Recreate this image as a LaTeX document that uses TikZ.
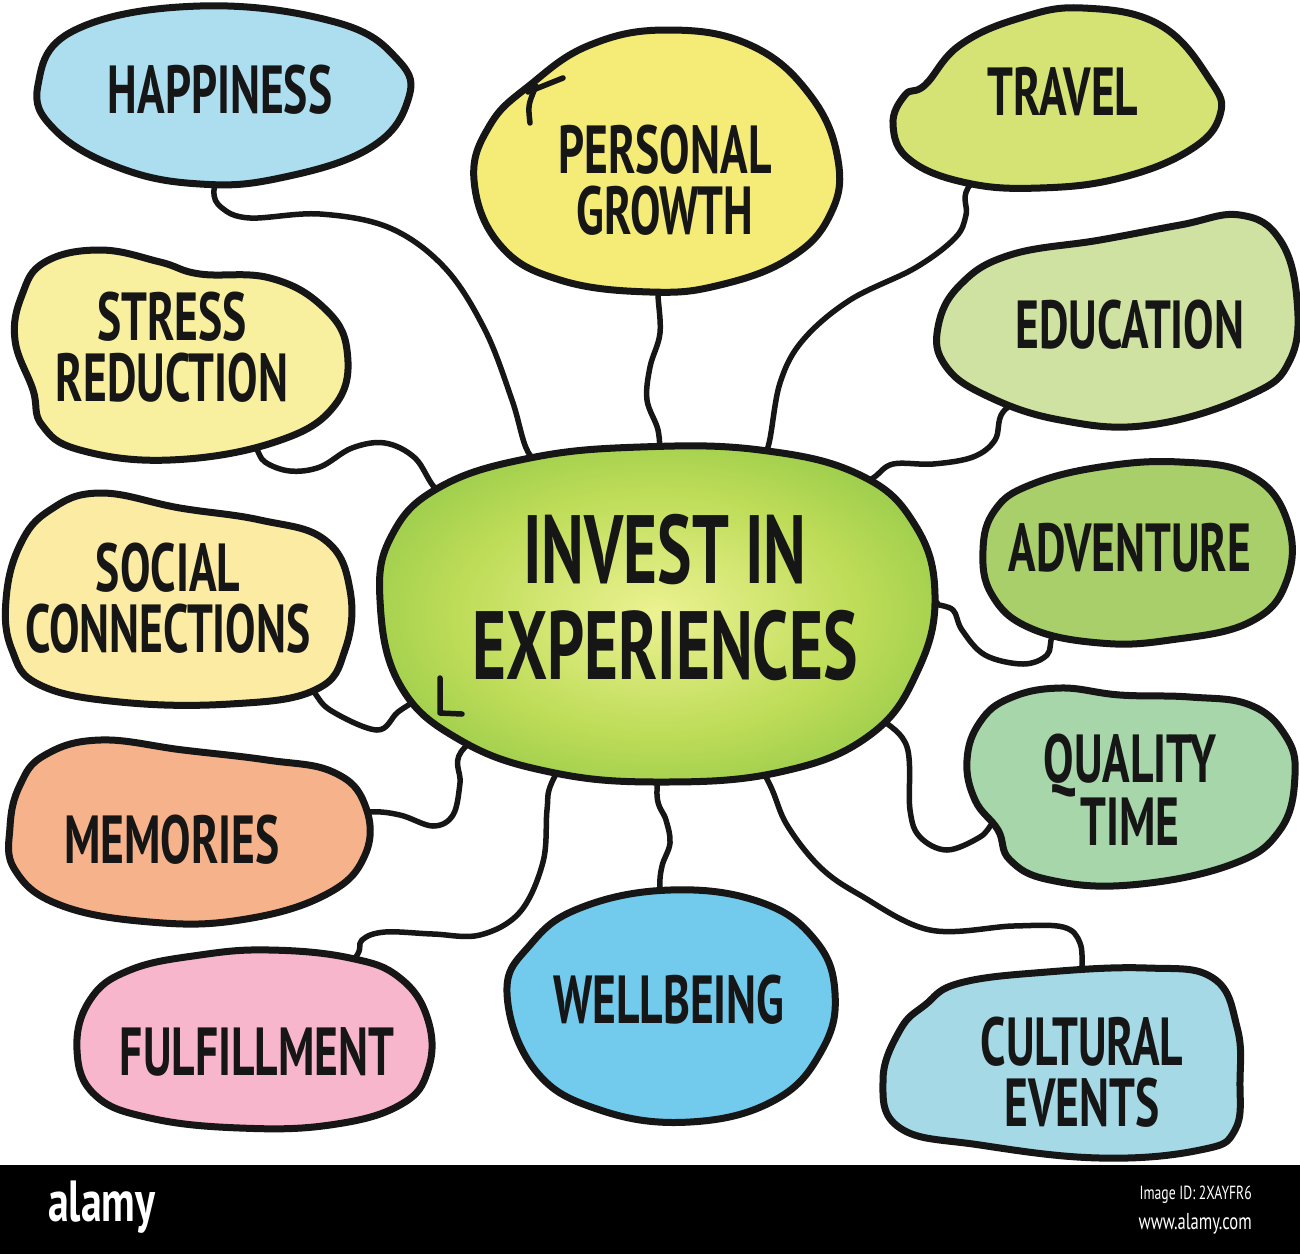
\documentclass[tikz,border=0pt]{standalone}
\usepackage{fontspec}
\newfontfamily\handfont{PT Sans}[FakeStretch=0.67]
\newfontfamily\bannerfont{PT Sans}[FakeStretch=0.72]
\usetikzlibrary{shapes.geometric}

\definecolor{ink}{HTML}{161616}
\definecolor{hapC}{HTML}{ADDEF0}
\definecolor{growC}{HTML}{F4EC76}
\definecolor{travC}{HTML}{D5E274}
\definecolor{strC}{HTML}{F8F09E}
\definecolor{eduC}{HTML}{CFE2A2}
\definecolor{socC}{HTML}{FCEBA3}
\definecolor{advC}{HTML}{A9CF6A}
\definecolor{memC}{HTML}{F6B38B}
\definecolor{qualC}{HTML}{A6D6A9}
\definecolor{fulC}{HTML}{F8B6CC}
\definecolor{wellC}{HTML}{72CAEC}
\definecolor{cultC}{HTML}{A5D9E6}
\definecolor{coreIn}{HTML}{ECF292}
\definecolor{coreMid}{HTML}{BEDC58}
\definecolor{coreOut}{HTML}{7ABF40}
\pgfdeclareradialshading{coreglow}{\pgfpoint{0bp}{0bp}}{color(0bp)=(coreIn); color(18bp)=(coreMid); color(38bp)=(coreOut); color(50bp)=(coreOut)}

\pgfdeclarelayer{paper}
\pgfdeclarelayer{links}
\pgfdeclarelayer{blobs}
\pgfsetlayers{paper,links,blobs,main}

\begin{document}
\begin{tikzpicture}[
  x=1pt, y=-1pt,
  topic/.style={ellipse, inner sep=0pt, align=center, text=ink,
    font=\handfont\bfseries\fontsize{68}{61}\selectfont},
  blob/.style={draw=ink, line width=7pt, line join=round},
  link/.style={draw=ink, line width=5.5pt, line cap=round, line join=round}
]
\useasboundingbox (0,0) rectangle (1300,1254);
\begin{pgfonlayer}{paper}
\fill[white] (0,0) rectangle (1300,1254);
\end{pgfonlayer}

\node[topic, minimum width=480, minimum height=280,
  font=\handfont\bfseries\fontsize{97}{96}\selectfont] (core) at (665,598) {INVEST IN\\EXPERIENCES};
\node[topic, minimum width=300, minimum height=130] (hap) at (220,90) {HAPPINESS};
\node[topic, minimum width=280, minimum height=200] (grow) at (665,180) {PERSONAL\\GROWTH};
\node[topic, minimum width=250, minimum height=130] (trav) at (1063,92) {TRAVEL};
\node[topic, minimum width=280, minimum height=160] (str) at (172,347) {STRESS\\REDUCTION};
\node[topic, minimum width=300, minimum height=160] (edu) at (1130,325) {EDUCATION};
\node[topic, minimum width=280, minimum height=170] (soc) at (168,598) {SOCIAL\\CONNECTIONS};
\node[topic, minimum width=260, minimum height=140] (adv) at (1130,548) {ADVENTURE};
\node[topic, minimum width=300, minimum height=140] (mem) at (172,840) {MEMORIES};
\node[topic, minimum width=270, minimum height=160] (qual) at (1130,790) {QUALITY\\TIME};
\node[topic, minimum width=300, minimum height=110] (ful) at (257,1052) {FULFILLMENT};
\node[topic, minimum width=260, minimum height=170] (well) at (669,1000) {WELLBEING};
\node[topic, minimum width=280, minimum height=140] (cult) at (1082,1072) {CULTURAL\\EVENTS};

\begin{pgfonlayer}{blobs}
\path[blob, shading=coreglow] plot[smooth cycle, tension=0.7] coordinates {(380,600) (392,535) (440,487) (530,458) (640,447) (760,450) (860,475) (915,525) (935,595) (918,670) (870,735) (780,772) (660,782) (550,772) (460,740) (400,685)};
\draw[link] (440,678) -- (440,713) -- (462,714);
\path[blob, fill=hapC] plot[smooth cycle, tension=0.7] coordinates {(38,85) (75,30) (200,6) (335,22) (398,60) (408,100) (370,148) (280,178) (200,184) (120,168) (55,130)};
\path[blob, fill=growC] plot[smooth cycle, tension=0.7] coordinates {(474,180) (490,125) (530,85) (590,45) (667,30) (750,45) (810,95) (838,160) (830,215) (790,258) (720,285) (650,292) (560,280) (500,245)};
\draw[link] (530,123) .. controls (528,105) .. (536,86);
\draw[link] (528,92) -- (563,78);
\path[blob, fill=travC] plot[smooth cycle, tension=0.7] coordinates {(893,125) (905,95) (925,85) (960,45) (1020,18) (1083,8) (1160,25) (1210,80) (1220,115) (1190,150) (1120,178) (1040,188) (967,183) (910,160)};
\path[blob, fill=strC] plot[smooth cycle, tension=0.7] coordinates {(15,340) (22,295) (45,262) (100,250) (160,262) (200,274) (270,278) (323,307) (347,350) (335,405) (275,442) (170,460) (80,450) (42,425) (33,390)};
\path[blob, fill=eduC] plot[smooth cycle, tension=0.7] coordinates {(938,327) (960,285) (1010,255) (1100,240) (1180,225) (1240,215) (1280,240) (1297,300) (1290,360) (1250,395) (1150,425) (1060,420) (985,395) (945,365)};
\path[blob, fill=socC] plot[smooth cycle, tension=0.7] coordinates {(6,600) (20,545) (50,510) (100,493) (180,508) (260,520) (325,540) (350,590) (345,650) (315,690) (230,704) (120,702) (40,685) (12,650)};
\path[blob, fill=advC] plot[smooth cycle, tension=0.7] coordinates {(983,550) (995,510) (1030,485) (1100,467) (1180,462) (1250,475) (1287,520) (1287,580) (1250,622) (1170,640) (1100,643) (1030,628) (992,595)};
\path[blob, fill=memC] plot[smooth cycle, tension=0.7] coordinates {(10,827) (20,785) (45,755) (100,740) (183,750) (267,760) (333,772) (365,805) (365,855) (325,895) (240,920) (150,922) (60,905) (15,870)};
\path[blob, fill=qualC] plot[smooth cycle, tension=0.7] coordinates {(967,760) (980,722) (1010,698) (1060,688) (1120,695) (1190,697) (1250,705) (1285,735) (1295,775) (1280,830) (1230,865) (1130,885) (1050,880) (1010,860) (998,830) (975,800)};
\path[blob, fill=fulC] plot[smooth cycle, tension=0.7] coordinates {(77,1050) (90,1000) (130,970) (200,955) (270,950) (350,958) (400,978) (428,1020) (428,1070) (400,1105) (330,1125) (240,1128) (150,1118) (95,1095)};
\path[blob, fill=wellC] plot[smooth cycle, tension=0.7] coordinates {(507,993) (530,945) (580,908) (670,890) (760,902) (815,940) (835,993) (822,1050) (775,1100) (690,1122) (600,1110) (535,1070)};
\path[blob, fill=cultC] plot[smooth cycle, tension=0.7] coordinates {(883,1080) (900,1030) (925,1005) (960,983) (1047,972) (1147,968) (1213,978) (1237,1027) (1240,1080) (1235,1130) (1200,1150) (1100,1158) (980,1145) (900,1128)};
\end{pgfonlayer}

\begin{pgfonlayer}{links}
\draw[link] plot[smooth, tension=0.6] coordinates {(hap.-85) (214,190) (222,208) (250,218) (320,214) (390,228) (445,268) (485,330) (512,400) (528,452) (core.132)};
\draw[link] plot[smooth, tension=0.6] coordinates {(grow.-92) (658,293) (660,333) (650,367) (647,400) (658,430) (core.92)};
\draw[link] plot[smooth, tension=0.6] coordinates {(trav.-135) (968,188) (966,215) (955,238) (915,268) (850,300) (803,340) (780,383) (768,447) (core.56)};
\draw[link] plot[smooth, tension=0.6] coordinates {(str.-51) (255,447) (265,462) (290,471) (320,467) (352,448) (385,443) (415,458) (437,490) (core.154)};
\draw[link] plot[smooth, tension=0.6] coordinates {(edu.-146) (1003,412) (995,440) (973,457) (933,464) (893,464) (873,478) (core.30)};
\draw[link] plot[smooth, tension=0.6] coordinates {(soc.-32) (310,688) (330,710) (377,730) (398,712) (420,698) (core.201)};
\draw[link] plot[smooth, tension=0.6] coordinates {(adv.-131) (1053,635) (1047,655) (1023,664) (985,655) (962,630) (953,610) (935,604) (core.-1)};
\draw[link] plot[smooth, tension=0.6] coordinates {(mem.8) (368,812) (400,815) (433,826) (453,815) (460,783) (461,752) (core.216)};
\draw[link] plot[smooth, tension=0.6] coordinates {(qual.193) (993,823) (980,837) (947,850) (920,837) (910,810) (907,747) (880,718) (core.-28)};
\draw[link] plot[smooth, tension=0.6] coordinates {(ful.44) (355,958) (362,940) (385,932) (433,934) (480,935) (520,912) (543,862) (547,810) (552,782) (core.-122)};
\draw[link] plot[smooth, tension=0.6] coordinates {(well.92) (660,888) (662,866) (670,843) (666,820) (657,795) (core.-91)};
\draw[link] plot[smooth, tension=0.6] coordinates {(cult.90) (1082,972) (1080,943) (1063,927) (1013,926) (930,930) (860,895) (820,867) (787,825) (770,785) (core.-60)};
\end{pgfonlayer}

\fill[black] (0,1165) rectangle (1300,1254);
\node[anchor=west, text=white, inner sep=0pt,
  font=\bannerfont\bfseries\fontsize{58}{58}\selectfont] (brand) at (48,1207) {alamy};
\node[anchor=east, text=white, inner sep=0pt,
  font=\bannerfont\fontsize{19}{19}\selectfont] (imgid) at (1252,1195) {Image ID: 2XAYFR6};
\node[anchor=east, text=white, inner sep=0pt,
  font=\bannerfont\fontsize{23}{23}\selectfont] (site) at (1252,1224) {www.alamy.com};
\end{tikzpicture}
\end{document}
